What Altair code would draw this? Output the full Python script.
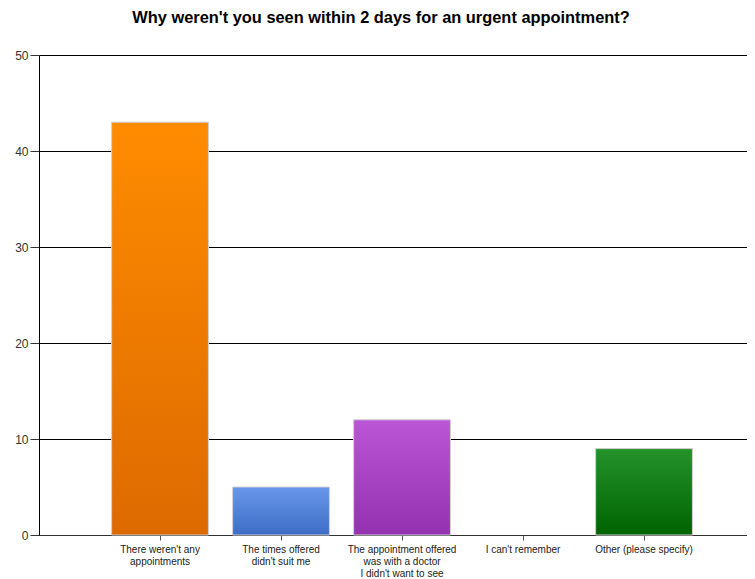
import altair as alt
import pandas as pd

categories = [
    "There weren't any\nappointments",
    "The times offered\ndidn't suit me",
    "The appointment offered\nwas with a doctor\nI didn't want to see",
    "I can't remember",
    "Other (please specify)",
]
values = [43, 5, 12, 0, 9]
top_colors = ["#FF8C00", "#6897EA", "#BB56D6", "#cccccc", "#24922A"]
bottom_colors = ["#DD6A00", "#3D6DC6", "#9331B0", "#cccccc", "#006400"]

df = pd.DataFrame({"cat": categories, "value": values})

x_enc = alt.X(
    "cat:N",
    sort=categories,
    title=None,
    scale=alt.Scale(paddingInner=0.2, paddingOuter=0.5256, align=0.571),
    axis=alt.Axis(
        labelAngle=0,
        labelExpr="split(datum.value, '\\n')",
        labelFont="Liberation Sans",
        labelFontSize=10,
        labelColor="#222222",
        labelLimit=200,
        labelPadding=4,
        tickColor="#555555",
        tickSize=5,
        domainColor="#333333",
        grid=False,
        labelLineHeight=12,
    ),
)
y_enc = alt.Y(
    "value:Q",
    title=None,
    scale=alt.Scale(domain=[0, 50]),
    axis=alt.Axis(
        values=[0, 10, 20, 30, 40, 50],
        grid=True,
        gridColor="#000000",
        gridWidth=1,
        gridOpacity=1,
        domainColor="#000000",
        tickColor="#333333",
        tickSize=9,
        labelFont="Liberation Sans",
        labelFontSize=12,
        labelColor="#333333",
        labelPadding=2,
    ),
)

layers = []
for i, c in enumerate(categories):
    if values[i] == 0:
        continue
    layers.append(
        alt.Chart(df)
        .transform_filter(alt.datum.cat == c)
        .mark_bar(
            stroke="#d0d0d0",
            strokeWidth=1,
            color=alt.Gradient(
                gradient="linear",
                x1=0, x2=0, y1=0, y2=1,
                stops=[
                    alt.GradientStop(color=top_colors[i], offset=0),
                    alt.GradientStop(color=bottom_colors[i], offset=1),
                ],
            ),
        )
        .encode(x=x_enc, y=y_enc)
    )

base = alt.Chart(df).mark_bar(opacity=0).encode(x=x_enc, y=y_enc)

chart = (
    alt.layer(base, *layers)
    .properties(
        width=708,
        height=480,
        title=alt.TitleParams(
            "Why weren't you seen within 2 days for an urgent appointment?",
            font="Liberation Sans",
            fontSize=16.4,
            fontWeight="bold",
            color="#000000",
            anchor="middle",
            offset=23,
            dx=-12,
        ),
        padding={"left": 6, "top": 1, "right": 0, "bottom": 0},
    )
    .configure_view(stroke=None)
    .configure(background="white")
)

chart.save("out.html", embed_options={"renderer": "svg", "actions": False})
